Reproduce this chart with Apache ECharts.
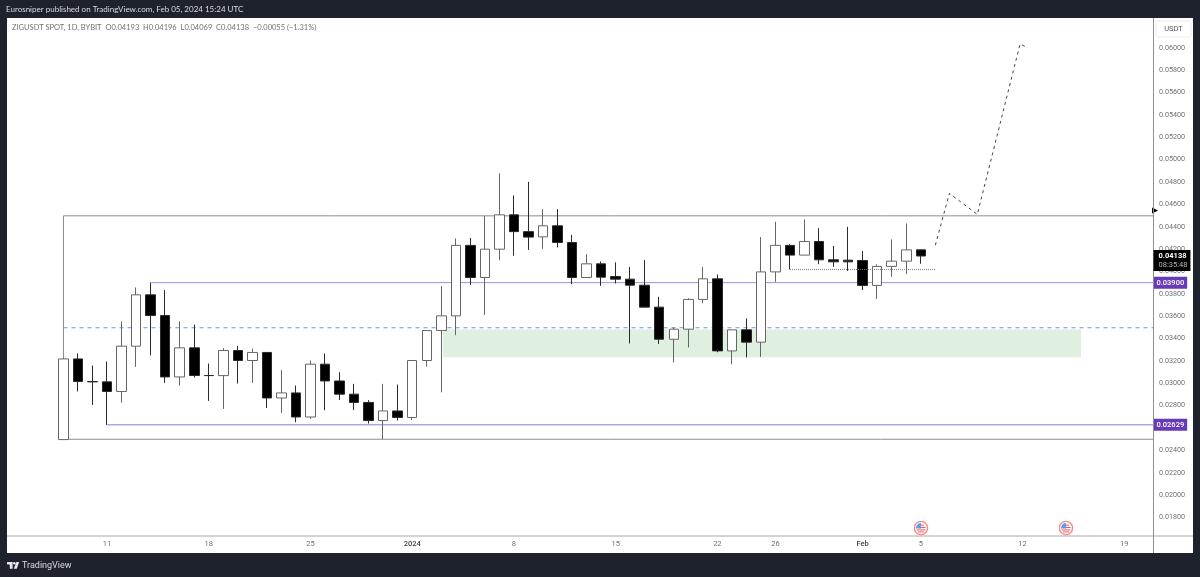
<!DOCTYPE html>
<html>
<head>
<meta charset="utf-8">
<title>ZIGUSDT SPOT, 1D, BYBIT</title>
<style>
html,body{margin:0;padding:0;background:#1e222d;}
#chart{width:1200px;height:577px;}
</style>
<script src="https://cdn.jsdelivr.net/npm/echarts@6/dist/echarts.min.js"></script>
</head>
<body>
<div id="chart"></div>
<script>
// Daily candles, first entry is 8 Dec 2023; the x axis counts days from that date.
const opens = [0.02497,0.03218,0.03016,0.03013,0.02927,0.03332,0.03791,0.03606,0.03057,0.03317,
  0.03070,0.03069,0.03293,0.03204,0.03276,0.02869,0.02914,0.02699,0.03171,0.03021,
  0.02903,0.02829,0.02667,0.02753,0.02694,0.03204,0.03472,0.03603,0.04233,0.03946,
  0.04199,0.04506,0.04356,0.04309,0.04408,0.04259,0.03946,0.04068,0.03955,0.03931,
  0.03877,0.03681,0.03394,0.03484,0.03750,0.03934,0.03290,0.03478,0.03368,0.03996,
  0.04233,0.04146,0.04268,0.04104,0.04101,0.04098,0.03875,0.04045,0.04092,0.04193];
const closes = [0.03218,0.03016,0.03013,0.02927,0.03332,0.03791,0.03606,0.03057,0.03317,0.03070,
  0.03069,0.03293,0.03204,0.03276,0.02869,0.02914,0.02699,0.03171,0.03021,0.02903,
  0.02829,0.02667,0.02753,0.02694,0.03204,0.03472,0.03603,0.04233,0.03946,0.04199,
  0.04506,0.04356,0.04307,0.04408,0.04259,0.03946,0.04068,0.03949,0.03931,0.03877,
  0.03681,0.03394,0.03484,0.03750,0.03934,0.03290,0.03478,0.03368,0.03996,0.04233,
  0.04146,0.04268,0.04104,0.04086,0.04086,0.03875,0.04045,0.04092,0.04193,0.04138];
const lows = [0.02497,0.02927,0.02807,0.02629,0.02828,0.03147,0.03249,0.03004,0.02980,0.03052,
  0.02843,0.02771,0.02998,0.03004,0.02780,0.02735,0.02652,0.02682,0.02759,0.02851,
  0.02762,0.02640,0.02500,0.02667,0.02673,0.03150,0.02920,0.03430,0.03880,0.03612,
  0.04101,0.04140,0.04193,0.04202,0.04215,0.03886,0.03946,0.03871,0.03893,0.03356,
  0.03681,0.03352,0.03186,0.03320,0.03716,0.03278,0.03171,0.03231,0.03236,0.03907,
  0.04018,0.04146,0.04065,0.04041,0.04005,0.03833,0.03755,0.03952,0.03976,0.04069];
const highs = [0.03218,0.03267,0.03159,0.03195,0.03553,0.03857,0.03900,0.03833,0.03555,0.03526,
  0.03177,0.03314,0.03335,0.03311,0.03280,0.03117,0.02980,0.03204,0.03267,0.03099,
  0.02995,0.02849,0.02995,0.02989,0.03204,0.03472,0.03869,0.04295,0.04300,0.04495,
  0.04877,0.04680,0.04801,0.04557,0.04557,0.04327,0.04155,0.04089,0.04081,0.04041,
  0.04101,0.03773,0.03499,0.03761,0.04041,0.03973,0.03478,0.03580,0.04307,0.04444,
  0.04244,0.04465,0.04387,0.04229,0.04399,0.04182,0.04063,0.04286,0.04429,0.04196];

// Axis ticks
const priceTicks = [0.018,0.020,0.022,0.024,0.026,0.028,0.030,0.032,0.034,0.036,0.038,
  0.040,0.042,0.044,0.046,0.048,0.050,0.052,0.054,0.056,0.058,0.060];
const dayTicks = [3,10,17,24,31,38,45,49,55,59,66,73];
const dayTickLabels = ['11','18','25','2024','8','15','22','26','Feb','5','12','19'];

// Drawn levels and shapes, as [day, price]
const axisDayMin = -3.888;
const axisDayMax = 74.98;
const rangeBox = [[axisDayMax,0.04497],[0,0.04497],[0,0.02500],[axisDayMax,0.02500]];
const resistanceLevel = [[6,0.03900],[axisDayMax,0.03900]];
const supportLevel = [[3,0.02629],[axisDayMax,0.02629]];
const midLevel = [[0,0.03497],[axisDayMax,0.03497]];
const consolidationLine = [[50,0.04018],[60,0.04018]];
const projectedPath = [[60,0.04235],[60.97,0.04698],[62.89,0.04510],[65.83,0.06033],[66.2,0.06009]];
const demandZone = {fromDay:26.12,toDay:70.03,top:0.03484,bottom:0.03233};
const economicEventDays = [59,69];
const economicEventPrice = 0.01710;
const lastPrice = 0.04138;
const countdown = '08:35:48';
const alertMarkerPrice = 0.04544;

const uiFont = 'Roboto, sans-serif';
const headFont = 'Lato, sans-serif';
const candleData = opens.map((o,i)=>[i,o,closes[i],lows[i],highs[i]]);

function lineSeries(data, color, width, type, z){
  return {type:'line',data,showSymbol:false,symbol:'none',silent:true,clip:false,z:z||1,
    lineStyle:{color,width,type:type||'solid'},animation:false};
}
function priceTag(price, bg){
  return {type:'scatter',data:[[axisDayMax,price]],symbolSize:1,clip:false,silent:true,z:8,
    itemStyle:{color:'rgba(0,0,0,0)',opacity:1},
    label:{show:true,position:'right',distance:0,formatter:price.toFixed(5),color:'#fff',
      fontFamily:uiFont,fontSize:7.5,fontWeight:500,backgroundColor:bg,padding:[2,3,2,3]}};
}
// Small round US flag used for economic events
function renderFlag(params, api){
  const p = api.coord([api.value(0),api.value(1)]);
  const x = Math.round(p[0]), y = Math.round(p[1]);
  const red = '#ef5a5a';
  const chord = (dy,x0,x1)=>({type:'rect',shape:{x:x+x0,y:y+dy,width:x1-x0,height:1},style:{fill:red}});
  return {type:'group',children:[
    {type:'circle',shape:{cx:x,cy:y,r:6.6},style:{fill:'#fff',stroke:'#f58a8a',lineWidth:1.4}},
    {type:'sector',shape:{cx:x,cy:y,r0:0,r:4.9,startAngle:Math.PI,endAngle:Math.PI*1.5},style:{fill:'#5b9bea'}},
    {type:'rect',shape:{x:x-4.9,y:y-0.5,width:5,height:1},style:{fill:'#5b9bea'}},
    chord(-3.4,0,3),chord(-1,0,4.6),chord(1.4,-4.4,4.4),chord(3.4,-3,3)
  ]};
}

const chart = echarts.init(document.getElementById('chart'),null,{renderer:'canvas',width:1200,height:577});
chart.setOption({
  animation:false,
  backgroundColor:'#1e222d',
  grid:{left:7,right:47,top:18,bottom:41,containLabel:false},
  tooltip:{show:false},
  graphic:[
    {type:'rect',z:-10,silent:true,shape:{x:7,y:18,width:1186,height:535},style:{fill:'#ffffff'}},
    {type:'line',z:9,silent:true,shape:{x1:7,y1:536,x2:1193,y2:536},style:{stroke:'#a8a8a8',lineWidth:1}},
    {type:'line',z:9,silent:true,shape:{x1:1153.5,y1:18,x2:1153.5,y2:553},style:{stroke:'#8f8f8f',lineWidth:1}},
    {type:'text',silent:true,style:{x:6,y:9,text:'Eurosniper published on TradingView.com, Feb 05, 2024 15:24 UTC',
      font:'8px '+headFont,fill:'#d9dbe1',verticalAlign:'middle'}},
    {type:'text',silent:true,style:{x:12,y:27.5,text:'ZIGUSDT SPOT, 1D, BYBIT  O0.04193  H0.04196  L0.04069  C0.04138  \u22120.00055 (\u22121.31%)',
      font:'7.5px '+headFont,fill:'#6f7076',verticalAlign:'middle'}},
    {type:'rect',silent:true,shape:{x:1156,y:21,width:35,height:16,r:2},style:{fill:'#fff',stroke:'#ececec',lineWidth:1}},
    {type:'text',silent:true,style:{x:1173.5,y:29,text:'USDT',font:'7.5px '+uiFont,fill:'#55575f',align:'center',verticalAlign:'middle'}},
    {type:'polygon',silent:true,shape:{points:[[7,562],[12.6,562],[12.6,568.7],[9.8,568.7],[9.8,564.6],[7,564.6]]},style:{fill:'#e8e9ec'}},
    {type:'circle',silent:true,shape:{cx:14.3,cy:563.3,r:1.3},style:{fill:'#e8e9ec'}},
    {type:'polygon',silent:true,shape:{points:[[16.4,562],[19.2,562],[16.7,568.7],[13.8,568.7]]},style:{fill:'#e8e9ec'}},
    {type:'text',silent:true,style:{x:22,y:565.5,text:'TradingView',font:'9px '+uiFont,fill:'#d9dbe1',verticalAlign:'middle'}}
  ],
  xAxis:{
    type:'value',min:axisDayMin,max:axisDayMax,
    splitLine:{show:false},axisLine:{show:false},axisTick:{show:false},
    axisLabel:{
      customValues:dayTicks,margin:4,fontFamily:uiFont,fontSize:7.5,color:'#6f7076',
      formatter:v=>{
        const t = dayTickLabels[dayTicks.indexOf(v)];
        return (t==='2024'||t==='Feb') ? '{b|'+t+'}' : t;
      },
      rich:{b:{color:'#3c3e45',fontFamily:uiFont,fontSize:7.5,fontWeight:500}}
    }
  },
  yAxis:{
    type:'value',position:'right',min:0.016351,max:0.062657,
    splitLine:{show:false},axisLine:{show:false},axisTick:{show:false},
    axisLabel:{customValues:priceTicks,margin:6,fontFamily:uiFont,fontSize:7.2,color:'#6f7076',
      formatter:v=>v.toFixed(5)}
  },
  series:[
    {type:'line',data:[],silent:true,z:0,
      markArea:{silent:true,itemStyle:{color:'#e0f0e0'},label:{show:false},
        data:[[{xAxis:demandZone.fromDay,yAxis:demandZone.top},{xAxis:demandZone.toDay,yAxis:demandZone.bottom}]]}},
    lineSeries(rangeBox,'#8c8c8c',1),
    lineSeries(resistanceLevel,'#a48ddc',1),
    lineSeries(supportLevel,'#b7a5e2',1.6),
    lineSeries(midLevel,'#6f8ff0',1,[4,4]),
    lineSeries(consolidationLine,'#7a7a7a',1,[1,1],4),
    {
      type:'candlestick',data:candleData,barWidth:10,silent:true,z:3,clip:false,
      itemStyle:{color:'#ffffff',color0:'#000000',borderColor:'#666666',borderColor0:'#2a2a2a',borderWidth:1}
    },
    lineSeries(projectedPath,'#444444',1,[3,3.5],4),
    {type:'custom',coordinateSystem:'cartesian2d',clip:false,silent:true,z:5,
      data:economicEventDays.map(d=>[d,economicEventPrice]),renderItem:renderFlag},
    {type:'scatter',data:[[axisDayMax,alertMarkerPrice]],clip:false,silent:true,z:8,
      symbol:'triangle',symbolSize:6,symbolRotate:-90,symbolOffset:[2,0],itemStyle:{color:'#000000',opacity:1}},
    priceTag(0.03900,'#673ab7'),
    priceTag(0.02629,'#673ab7'),
    {type:'scatter',data:[[axisDayMax,lastPrice]],symbolSize:1,clip:false,silent:true,z:9,
      itemStyle:{color:'rgba(0,0,0,0)',opacity:1},
      label:{show:true,position:'right',distance:0,offset:[0,4.5],backgroundColor:'#000',padding:[1.5,3,1.5,5],
        formatter:'{a|'+lastPrice.toFixed(5)+'}\n{c|'+countdown+'}',
        rich:{a:{color:'#fff',fontFamily:uiFont,fontSize:7.5,fontWeight:700,lineHeight:9},
              c:{color:'#b5b5b5',fontFamily:uiFont,fontSize:7.5,lineHeight:9}}}}
  ]
});
</script>
</body>
</html>
